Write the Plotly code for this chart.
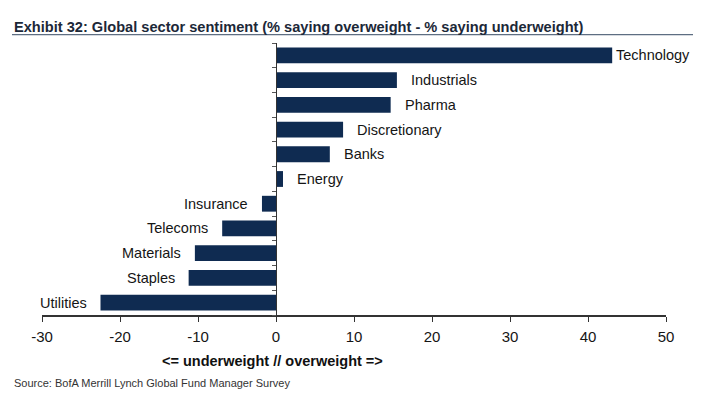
import plotly.graph_objects as go

sectors = ["Technology", "Industrials", "Pharma", "Discretionary", "Banks", "Energy",
           "Insurance", "Telecoms", "Materials", "Staples", "Utilities"]
values = [43.1, 15.5, 14.7, 8.6, 6.9, 0.9, -1.8, -6.9, -10.4, -11.2, -22.5]
x_ticks = [-30, -20, -10, 0, 10, 20, 30, 40, 50]
x_range = [-30, 50]

title = "Exhibit 32: Global sector sentiment (% saying overweight - % saying underweight)"
axis_title = "<= underweight // overweight =>"
source = "Source: BofA Merrill Lynch Global Fund Manager Survey"

NAVY = "#0f2b51"
FONT = "Liberation Sans, Arial, sans-serif"

W, H = 685, 383
ML, MR, MT, MB = 34, 27, 35, 76
PH = H - MT - MB
PW = W - ML - MR

fig = go.Figure()
fig.add_trace(go.Bar(
    y=sectors, x=values, orientation="h",
    marker=dict(color=NAVY, line=dict(width=0)),
    width=0.64,
    hoverinfo="x+y",
))

# category labels beside each bar end
vmax = max(values)
for s, v in zip(sectors, values):
    pad = 2 if v == vmax else 12
    fig.add_annotation(
        x=v, y=s, xref="x", yref="y", text=s, showarrow=False,
        xanchor="left" if v >= 0 else "right",
        xshift=pad if v >= 0 else -pad,
        font=dict(family=FONT, size=14.5, color="#151515"),
    )

# y-axis line sits at x = 0 of the value axis
pos0 = (0 - x_range[0]) / (x_range[1] - x_range[0])

fig.update_layout(
    width=W, height=H,
    margin=dict(l=ML, r=MR, t=MT, b=MB),
    paper_bgcolor="white", plot_bgcolor="white",
    showlegend=False,
    xaxis=dict(
        range=x_range, tickvals=x_ticks, ticktext=[str(v) for v in x_ticks],
        showgrid=False, zeroline=False,
        showline=True, linecolor="#333333", linewidth=1.5,
        ticks="outside", ticklen=5, tickcolor="#333333", tickwidth=1,
        ticklabelstandoff=2,
        tickfont=dict(family=FONT, size=15, color="#151515"),
        domain=[0, 1],
    ),
    yaxis=dict(
        categoryorder="array", categoryarray=sectors[::-1],
        anchor="free", position=pos0,
        showline=True, linecolor="#333333", linewidth=1.2,
        ticks="outside", ticklen=4, tickcolor="#555555", tickson="boundaries",
        showticklabels=False, showgrid=False, zeroline=False,
    ),
)

fig.add_annotation(
    text=axis_title, xref="x", yref="paper", x=-0.5, y=-46 / PH,
    xanchor="center", yanchor="middle", showarrow=False,
    font=dict(family=FONT, size=14.5, color="#111111", weight="bold"),
)
fig.add_annotation(
    text=title, xref="paper", yref="paper", x=-30 / PW, y=1 + 16.5 / PH,
    xanchor="left", yanchor="middle", showarrow=False,
    font=dict(family=FONT, size=14.6, color="#1c2838", weight="bold"),
)
fig.add_shape(type="line", xref="paper", yref="paper", x0=-30 / PW, x1=1 + MR / PW,
              y0=1 + 8.3 / PH, y1=1 + 8.3 / PH,
              line=dict(color="#5e6e82", width=1.2))
fig.add_annotation(
    text=source, xref="paper", yref="paper", x=-30 / PW, y=-68 / PH,
    xanchor="left", yanchor="middle", showarrow=False,
    font=dict(family=FONT, size=11, color="#333333"),
)

fig.write_html("out.html")
